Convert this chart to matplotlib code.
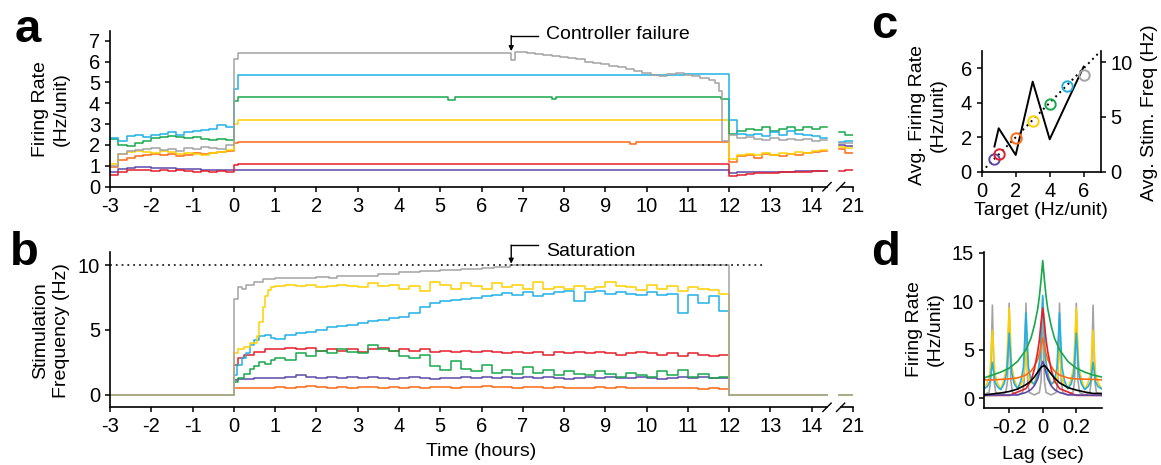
import matplotlib
matplotlib.use('Agg')
import matplotlib.pyplot as plt
import numpy as np

plt.rcParams['font.family'] = ['Liberation Sans', 'DejaVu Sans']
plt.rcParams['axes.unicode_minus'] = False
plt.rcParams['font.size'] = 14

# ---------------- colours ----------------
C_GRAY = '#A3A3A3'
C_CYAN = '#1FB1E6'
C_GREEN = '#17A84A'
C_YELLOW = '#FFD000'
C_ORANGE = '#FF6A13'
C_RED = '#E41E2B'
C_PURPLE = '#5D4AA8'

# ---------------- time axis (display hours; 21 h shown at position 15) ----------------
time_ticks = [-3, -2, -1, 0, 1, 2, 3, 4, 5, 6, 7, 8, 9, 10, 11, 12, 13, 14, 15]
time_labels = ['-3', '-2', '-1', '0', '1', '2', '3', '4', '5', '6', '7', '8', '9',
               '10', '11', '12', '13', '14', '21']
seg_end = 14.37       # data end before the axis break
brk_start = 14.65     # data start after the axis break
brk_end = 15.0

# ---------------- panel a : firing rate ----------------
a_pre_t = [-3.0, -2.8, -2.6, -2.4, -2.2, -2.0, -1.8, -1.6, -1.4, -1.2, -1.0, -0.8, -0.6, -0.4, -0.2]
a_post_t = [12.0, 12.2, 12.4, 12.6, 12.8, 13.0, 13.2, 13.4, 13.6, 13.8, 14.0, 14.2]
a_brk_t = [14.65, 14.8]

gray_a_pre = [1.0, 1.55, 1.7, 1.75, 1.8, 1.85, 1.75, 1.8, 1.7, 1.85, 1.8, 1.9, 1.85, 1.8, 2.0]
gray_a_stim_t = [0.0, 0.1, 6.72, 6.8, 7.1, 7.3, 7.5, 7.7, 7.9, 8.1, 8.3, 8.5, 8.7, 8.9, 9.1,
                 9.3, 9.5, 9.7, 9.9, 10.1, 10.3, 10.5, 10.7, 10.9, 11.1, 11.3, 11.5, 11.65,
                 11.75, 11.83]
gray_a_stim_v = [6.1, 6.42, 6.07, 6.47, 6.42, 6.35, 6.3, 6.25, 6.2, 6.15, 6.1, 6.0, 5.95, 5.9,
                 5.8, 5.75, 5.65, 5.55, 5.45, 5.35, 5.3, 5.4, 5.45, 5.35, 5.3, 5.2, 5.1, 4.95,
                 4.6, 2.2]
gray_a_post = [2.5, 2.35, 2.4, 2.3, 2.25, 2.35, 2.25, 2.3, 2.25, 2.3, 2.2, 2.25]
gray_a_brk = [2.1, 2.1]

cyan_a_pre = [2.35, 2.2, 2.45, 2.5, 2.4, 2.5, 2.55, 2.6, 2.5, 2.6, 2.65, 2.7, 2.75, 2.95, 2.85]
cyan_a_stim_t = [0.0, 0.1, 10.9, 11.6]
cyan_a_stim_v = [4.7, 5.35, 5.4, 5.38]
cyan_a_post = [3.2, 2.55, 2.5, 2.55, 2.45, 2.6, 2.5, 2.65, 2.55, 2.5, 2.45, 2.35]
cyan_a_brk = [2.15, 2.2]

green_a_pre = [2.3, 2.0, 1.95, 2.1, 2.2, 2.35, 2.4, 2.45, 2.4, 2.35, 2.4, 2.3, 2.25, 2.3, 2.25]
green_a_stim_t = [0.0, 0.1, 5.2, 5.35, 7.7, 7.8, 11.8]
green_a_stim_v = [4.1, 4.3, 4.15, 4.3, 4.2, 4.3, 4.2]
green_a_post = [2.55, 2.65, 2.75, 2.7, 2.85, 2.65, 2.75, 2.85, 2.7, 2.85, 2.75, 2.85]
green_a_brk = [2.6, 2.5]

yellow_a_pre = [1.1, 1.55, 1.65, 1.7, 1.65, 1.6, 1.7, 1.65, 1.55, 1.6, 1.55, 1.5, 1.6, 1.65, 1.75]
yellow_a_stim_t = [0.0, 0.1]
yellow_a_stim_v = [3.0, 3.22]
yellow_a_post = [1.35, 1.5, 1.55, 1.5, 1.6, 1.5, 1.6, 1.55, 1.65, 1.6, 1.7, 1.75]
yellow_a_brk = [1.9, 1.85]

orange_a_pre = [0.95, 1.3, 1.4, 1.45, 1.5, 1.55, 1.5, 1.55, 1.45, 1.5, 1.6, 1.55, 1.6, 1.65, 1.7]
orange_a_stim_t = [0.0, 0.1, 9.6, 9.75, 11.9]
orange_a_stim_v = [2.1, 2.15, 2.05, 2.15, 2.12]
orange_a_post = [1.2, 1.45, 1.5, 1.4, 1.55, 1.5, 1.45, 1.55, 1.5, 1.6, 1.65, 1.7]
orange_a_brk = [1.8, 1.6]

red_a_pre = [0.55, 0.72, 0.78, 0.8, 0.8, 0.75, 0.78, 0.75, 0.8, 0.75, 0.7, 0.75, 0.72, 0.75, 0.72]
red_a_stim_t = [0.0, 0.1]
red_a_stim_v = [1.05, 1.1]
red_a_post = [0.52, 0.58, 0.62, 0.65, 0.65, 0.68, 0.7, 0.7, 0.72, 0.72, 0.75, 0.75]
red_a_brk = [0.75, 0.8]

purple_a_pre = [0.7, 0.85, 0.92, 0.95, 0.93, 0.9, 0.88, 0.88, 0.86, 0.85, 0.83, 0.82, 0.8, 0.8, 0.8]
purple_a_stim_t = [0.0]
purple_a_stim_v = [0.82]
purple_a_post = [0.66, 0.72, 0.7, 0.72, 0.72, 0.7, 0.72, 0.72, 0.73, 0.75, 0.75, 0.75]
purple_a_brk = [2.0, 1.95]

# ---------------- panel b : stimulation frequency ----------------
b_late_t = [round(1.0 + 0.25 * i, 2) for i in range(44)]   # 1.00 ... 11.75 h bins

gray_b_t = [0.0, 0.1, 0.2, 0.3, 0.5, 0.7, 1.0, 1.5, 2.0, 2.3, 2.5, 3.0, 3.5, 4.0, 4.5, 5.0,
            5.5, 6.0, 6.3, 6.7]
gray_b_v = [7.4, 8.3, 8.2, 8.5, 8.7, 8.9, 9.0, 9.05, 9.1, 9.0, 9.15, 9.2, 9.3, 9.45, 9.55,
            9.65, 9.7, 9.8, 9.9, 10.0]

yellow_b_early_t = [0.0, 0.1, 0.25, 0.4, 0.55, 0.62, 0.7, 0.75, 0.82, 0.9]
yellow_b_early_v = [3.2, 3.5, 3.7, 4.0, 4.5, 5.6, 6.8, 7.6, 8.1, 8.3]
yellow_b_late = [8.4, 8.45, 8.4, 8.5, 8.3, 8.4, 8.5, 8.4, 8.3, 8.6,
                 8.4, 8.5, 8.2, 8.4, 8.0, 8.7, 8.5, 8.2, 8.6, 8.4,
                 8.2, 8.6, 8.3, 8.5, 8.2, 8.7, 8.2, 8.3, 8.2, 8.4,
                 8.2, 8.3, 8.7, 8.4, 8.3, 8.1, 8.5, 8.2, 8.4, 8.0,
                 8.3, 8.2, 8.1, 7.8]

cyan_b_early_t = [0.0, 0.08, 0.2, 0.3, 0.4, 0.5, 0.6, 0.75, 0.9]
cyan_b_early_v = [1.5, 2.3, 2.8, 3.2, 3.8, 4.2, 4.5, 4.6, 4.4]
cyan_b_late = [4.3, 4.6, 4.8, 4.85, 5.0, 5.2, 5.3, 5.4, 5.5, 5.7,
               5.8, 5.9, 6.0, 6.3, 6.8, 7.1, 7.2, 7.3, 7.4, 7.5,
               7.6, 7.7, 7.85, 7.7, 7.9, 7.65, 7.8, 7.9, 8.0, 7.2,
               7.9, 8.0, 7.8, 7.95, 7.8, 7.7, 7.9, 7.7, 7.8, 6.3,
               7.7, 7.1, 7.6, 6.5]

red_b_early_t = [0.0, 0.1, 0.25, 0.5, 0.75]
red_b_early_v = [2.3, 2.8, 3.1, 3.3, 3.5]
red_b_late = [3.5, 3.6, 3.5, 3.6, 3.4, 3.5, 3.4, 3.5, 3.3, 3.5,
              3.6, 3.4, 3.5, 3.4, 3.5, 3.3, 3.4, 3.3, 3.4, 3.3,
              3.4, 3.3, 3.2, 3.3, 3.2, 3.3, 3.1, 3.3, 3.2, 3.3,
              3.2, 3.3, 3.2, 3.1, 3.2, 3.3, 3.2, 3.1, 3.2, 3.0,
              3.2, 3.1, 3.0, 3.1]

green_b_early_t = [0.0, 0.1, 0.25, 0.4, 0.5, 0.6, 0.75, 0.9]
green_b_early_v = [1.0, 1.3, 1.6, 2.0, 2.2, 2.5, 2.4, 2.7]
green_b_late = [2.8, 2.7, 3.2, 3.0, 3.4, 3.2, 3.5, 3.3, 3.2, 3.8,
                3.5, 3.4, 3.0, 2.8, 3.1, 2.2, 1.9, 2.6, 2.0, 1.8,
                2.3, 1.7, 1.9, 1.6, 2.1, 1.7, 1.9, 1.5, 1.8, 1.6,
                1.5, 1.8, 1.6, 1.4, 1.7, 1.5, 1.4, 1.8, 1.5, 1.9,
                1.4, 1.6, 1.3, 1.4]

purple_b_early_t = [0.0, 0.1, 0.5]
purple_b_early_v = [1.1, 1.2, 1.3]
purple_b_late = [1.3, 1.4, 1.5, 1.4, 1.3, 1.4, 1.3, 1.4, 1.3, 1.4,
                 1.3, 1.2, 1.3, 1.4, 1.3, 1.2, 1.3, 1.3, 1.4, 1.3,
                 1.4, 1.3, 1.4, 1.3, 1.4, 1.3, 1.4, 1.3, 1.2, 1.3,
                 1.4, 1.3, 1.4, 1.3, 1.3, 1.4, 1.3, 1.2, 1.3, 1.4,
                 1.3, 1.4, 1.3, 1.3]

orange_b_early_t = [0.0, 0.1]
orange_b_early_v = [0.5, 0.55]
orange_b_late = [0.6, 0.55, 0.6, 0.65, 0.6, 0.55, 0.6, 0.55, 0.6, 0.6,
                 0.55, 0.6, 0.5, 0.6, 0.55, 0.6, 0.6, 0.55, 0.6, 0.6,
                 0.65, 0.6, 0.6, 0.55, 0.6, 0.6, 0.55, 0.6, 0.55, 0.5,
                 0.55, 0.6, 0.55, 0.6, 0.5, 0.55, 0.5, 0.55, 0.5, 0.55,
                 0.5, 0.45, 0.5, 0.45]

saturation_level = 10
saturation_end = 12.9
event_t = 6.72

# ---------------- panel c ----------------
targets = [0.75, 1, 2, 3, 4, 5, 6]
avg_rate = [0.75, 1.0, 1.98, 2.93, 3.9, 4.98, 5.6]
avg_stim = [2.3, 3.97, 1.53, 8.23, 2.96, 6.3, 9.6]
c_colors = [C_PURPLE, C_RED, C_ORANGE, C_YELLOW, C_GREEN, C_CYAN, C_GRAY]
identity = [0, 7]

# ---------------- panel d : cross-correlograms ----------------
lag_gray = [-0.35, -0.32, -0.31, -0.3, -0.29, -0.28, -0.25, -0.22, -0.21, -0.2, -0.19, -0.18,
            -0.15, -0.12, -0.11, -0.1, -0.09, -0.08, -0.05, -0.02, -0.01, 0.0, 0.01, 0.02,
            0.05, 0.08, 0.09, 0.1, 0.11, 0.12, 0.15, 0.18, 0.19, 0.2, 0.21, 0.22, 0.25,
            0.28, 0.29, 0.3, 0.31, 0.32, 0.35]
rate_gray = [0.4, 0.6, 1.8, 9.6, 1.8, 0.6, 0.35, 0.6, 1.8, 9.8, 1.8, 0.6,
             0.35, 0.6, 1.8, 9.8, 1.8, 0.6, 0.35, 0.6, 1.8, 9.8, 1.8, 0.6,
             0.35, 0.6, 1.8, 9.8, 1.8, 0.6, 0.35, 0.6, 1.8, 9.8, 1.8, 0.6, 0.35,
             0.6, 1.8, 9.6, 1.8, 0.6, 0.4]
lag_spk = [-0.35, -0.33, -0.315, -0.3, -0.285, -0.27, -0.25, -0.23, -0.215, -0.2, -0.185,
           -0.17, -0.15, -0.13, -0.115, -0.1, -0.085, -0.07, -0.05, -0.03, -0.015, 0.0,
           0.015, 0.03, 0.05, 0.07, 0.085, 0.1, 0.115, 0.13, 0.15, 0.17, 0.185, 0.2, 0.215,
           0.23, 0.25, 0.27, 0.285, 0.3, 0.315, 0.33, 0.35]
rate_yellow = [1.0, 1.6, 2.5, 7.0, 2.5, 1.6, 0.9, 2.0, 3.3, 9.3, 3.3, 2.0, 1.0, 1.4, 2.0, 5.0,
               2.0, 1.6, 1.6, 2.6, 4.2, 10.3, 4.2, 2.6, 1.6, 1.6, 2.0, 5.0, 2.0, 1.4, 1.0,
               2.0, 3.3, 9.3, 3.3, 2.0, 0.9, 1.6, 2.5, 7.0, 2.5, 1.6, 1.0]
rate_cyan = [1.0, 1.2, 1.7, 3.7, 1.7, 1.2, 0.9, 1.5, 2.6, 6.7, 2.6, 1.5, 1.0, 1.8, 3.2, 8.8,
             3.2, 1.8, 1.4, 2.4, 4.3, 10.6, 4.3, 2.4, 1.4, 1.8, 3.2, 8.8, 3.2, 1.8, 1.0,
             1.5, 2.6, 6.7, 2.6, 1.5, 0.9, 1.2, 1.7, 3.7, 1.7, 1.2, 1.0]
lag_green = [-0.35, -0.3, -0.25, -0.2, -0.15, -0.1, -0.07, -0.05, -0.03, -0.02, -0.01, 0.0,
             0.01, 0.02, 0.03, 0.05, 0.07, 0.1, 0.15, 0.2, 0.25, 0.3, 0.35]
rate_green = [2.1, 2.4, 2.7, 3.1, 3.8, 5.0, 6.2, 7.5, 9.2, 10.5, 12.2, 14.2,
              12.2, 10.5, 9.2, 7.5, 6.2, 5.0, 3.8, 3.1, 2.7, 2.4, 2.2]
lag_orange = [-0.35, -0.3, -0.2, -0.15, -0.1, -0.07, -0.05, -0.03, -0.02, -0.01, 0.0,
              0.01, 0.02, 0.03, 0.05, 0.07, 0.1, 0.15, 0.2, 0.3, 0.35]
rate_orange = [1.9, 1.9, 2.0, 2.1, 2.4, 2.8, 3.3, 4.0, 4.6, 5.4, 6.2,
               5.4, 4.6, 4.0, 3.3, 2.8, 2.4, 2.1, 2.0, 1.95, 1.9]
lag_red = [-0.35, -0.2, -0.1, -0.07, -0.05, -0.03, -0.02, -0.01, 0.0, 0.01, 0.02, 0.03,
           0.05, 0.07, 0.1, 0.2, 0.35]
rate_red = [0.3, 0.3, 1.0, 1.8, 3.0, 4.8, 6.0, 7.8, 9.3, 7.8, 6.0, 4.8, 3.0, 1.8, 1.0, 0.3, 0.3]
lag_purple = [-0.35, -0.15, -0.1, -0.07, -0.05, -0.03, -0.02, -0.01, 0.0, 0.01, 0.02, 0.03,
              0.05, 0.07, 0.1, 0.15, 0.35]
rate_purple = [0.3, 0.35, 0.6, 0.9, 1.3, 2.0, 2.6, 3.3, 3.8, 3.3, 2.6, 2.0, 1.3, 0.9, 0.6, 0.35, 0.3]
lag_black = [-0.35, -0.3, -0.25, -0.2, -0.15, -0.1, -0.07, -0.05, -0.03, -0.01, 0.0, 0.01,
             0.03, 0.05, 0.07, 0.1, 0.15, 0.2, 0.25, 0.3, 0.35]
rate_black = [0.35, 0.45, 0.55, 0.7, 0.95, 1.4, 1.8, 2.2, 2.7, 3.2, 3.3, 3.4, 3.0, 2.5, 2.1,
              1.6, 1.1, 0.85, 0.65, 0.5, 0.5]

# ======================================================================
W, H = 1161, 465
fig = plt.figure(figsize=(W / 100, H / 100), dpi=100)


def fx(px):
    return px / W


def fy(py):
    return 1 - py / H


LW = 1.1
TICK = dict(direction='out', length=3.6, width=1.1, labelsize=14.5)


def style(ax, sides=('left', 'bottom')):
    for s in ['left', 'right', 'top', 'bottom']:
        ax.spines[s].set_visible(s in sides)
        ax.spines[s].set_linewidth(1.2)
    ax.tick_params(**TICK)


def step_line(ax, t, v, end, color, zorder=2):
    x = list(t) + [end]
    y = list(v) + [v[-1]]
    ax.step(x, y, where='post', color=color, lw=LW, zorder=zorder)


def broken_xaxis(ax):
    ax.spines['bottom'].set_visible(False)
    tr = ax.get_xaxis_transform()
    ax.plot([-3, seg_end], [0, 0], color='k', lw=1.2, transform=tr, clip_on=False)
    ax.plot([seg_end + 0.33, 15], [0, 0], color='k', lw=1.2, transform=tr, clip_on=False)
    for xc in (seg_end, seg_end + 0.33):
        ax.plot([xc - 0.1, xc + 0.1], [-0.027, 0.027], color='k', lw=1.0,
                transform=tr, clip_on=False)
    ax.set_xticks(time_ticks)
    ax.set_xticklabels(time_labels)
    ax.set_xlim(-3, 15)


# ---------------- panel a ----------------
ax_a = fig.add_axes([fx(110), fy(186.7), fx(853 - 110), (186.7 - 30.7) / H])
style(ax_a)
a_series = [
    (purple_a_pre, purple_a_stim_t, purple_a_stim_v, purple_a_post, purple_a_brk, C_PURPLE),
    (red_a_pre, red_a_stim_t, red_a_stim_v, red_a_post, red_a_brk, C_RED),
    (orange_a_pre, orange_a_stim_t, orange_a_stim_v, orange_a_post, orange_a_brk, C_ORANGE),
    (yellow_a_pre, yellow_a_stim_t, yellow_a_stim_v, yellow_a_post, yellow_a_brk, C_YELLOW),
    (green_a_pre, green_a_stim_t, green_a_stim_v, green_a_post, green_a_brk, C_GREEN),
    (cyan_a_pre, cyan_a_stim_t, cyan_a_stim_v, cyan_a_post, cyan_a_brk, C_CYAN),
    (gray_a_pre, gray_a_stim_t, gray_a_stim_v, gray_a_post, gray_a_brk, C_GRAY),
]
for pre, st, sv, post, brk, col in a_series:
    step_line(ax_a, a_pre_t + st + a_post_t, pre + sv + post, seg_end, col)
    step_line(ax_a, a_brk_t, brk, brk_end, col)
ax_a.set_ylim(0, 7.48)
ax_a.set_yticks(range(0, 8))
broken_xaxis(ax_a)
# controller failure annotation
ax_a.plot([event_t, event_t + 0.66], [7.22, 7.22], color='k', lw=1.0, clip_on=False)
ax_a.annotate('', xy=(event_t, 6.5), xytext=(event_t, 7.24),
              arrowprops=dict(arrowstyle='-|>', color='k', lw=1.0, mutation_scale=7,
                              shrinkA=0, shrinkB=0), annotation_clip=False)
ax_a.text(event_t + 0.85, 7.3, 'Controller failure', fontsize=14, va='center', ha='left')

# ---------------- panel b ----------------
ax_b = fig.add_axes([fx(110), fy(407.3), fx(853 - 110), (407.3 - 252.3) / H])
style(ax_b)
b_series = [
    (purple_b_early_t + b_late_t, purple_b_early_v + purple_b_late, C_PURPLE),
    (orange_b_early_t + b_late_t, orange_b_early_v + orange_b_late, C_ORANGE),
    (red_b_early_t + b_late_t, red_b_early_v + red_b_late, C_RED),
    (green_b_early_t + b_late_t, green_b_early_v + green_b_late, C_GREEN),
    (cyan_b_early_t + b_late_t, cyan_b_early_v + cyan_b_late, C_CYAN),
    (yellow_b_early_t + b_late_t, yellow_b_early_v + yellow_b_late, C_YELLOW),
    (gray_b_t, gray_b_v, C_GRAY),
]
for t, v, col in b_series:
    step_line(ax_b, [-3.0] + t + [12.0], [0.0] + v + [0.0], seg_end, col)
    step_line(ax_b, [brk_start], [0.0], brk_end, col)
ax_b.plot([-3, saturation_end], [saturation_level, saturation_level], color='k',
          lw=1.1, ls=(0, (1.2, 2.6)), zorder=3)
ax_b.set_ylim(-0.98, 11.0)
ax_b.set_yticks([0, 5, 10])
broken_xaxis(ax_b)
ax_b.plot([event_t, event_t + 0.66], [11.53, 11.53], color='k', lw=1.0, clip_on=False)
ax_b.annotate('', xy=(event_t, 10.12), xytext=(event_t, 11.55),
              arrowprops=dict(arrowstyle='-|>', color='k', lw=1.0, mutation_scale=7,
                              shrinkA=0, shrinkB=0), annotation_clip=False)
ax_b.text(event_t + 0.85, 11.05, 'Saturation', fontsize=14, va='center', ha='left')

# ---------------- panel c ----------------
ax_c = fig.add_axes([fx(981.7), fy(171.7), fx(1100.7 - 981.7), (171.7 - 51) / H])
style(ax_c)
ax_c.set_xlim(0, 7)
ax_c.set_ylim(0, 7)
ax_c.set_xticks([0, 2, 4, 6])
ax_c.set_yticks([0, 2, 4, 6])
ax_c2 = ax_c.twinx()
style(ax_c2, sides=('right',))
ax_c2.plot(targets, avg_stim, color='k', lw=1.4, zorder=2)
ax_c2.set_ylim(0, 11.03)
ax_c2.set_yticks([0, 5, 10])
ax_c2.set_xlim(0, 7)
# identity line and circles drawn on the top axes (in left-axis units) so they stay visible
to_right = ax_c2.get_ylim()[1] / ax_c.get_ylim()[1]
ax_c2.plot(identity, [v * to_right for v in identity], color='k', lw=1.4,
           ls=(0, (1.0, 2.0)), zorder=1)
for tx, rv, col in zip(targets, avg_rate, c_colors):
    ax_c2.plot([tx], [rv * to_right], 'o', ms=7.5, mfc='none', mec=col, mew=1.4, zorder=3)

# ---------------- panel d ----------------
ax_d = fig.add_axes([fx(984), fy(408.3), fx(1102.3 - 984), (408.3 - 252.3) / H])
style(ax_d)
d_curves = [
    (lag_gray, rate_gray, C_GRAY),
    (lag_spk, rate_yellow, C_YELLOW),
    (lag_spk, rate_cyan, C_CYAN),
    (lag_orange, rate_orange, C_ORANGE),
    (lag_green, rate_green, C_GREEN),
    (lag_red, rate_red, C_RED),
    (lag_purple, rate_purple, C_PURPLE),
    (lag_black, rate_black, 'k'),
]
for lx, ly, col in d_curves:
    ax_d.plot(lx, ly, color=col, lw=1.2)
ax_d.set_xlim(-0.35, 0.355)
ax_d.set_ylim(-1.03, 15.05)
ax_d.set_yticks([0, 5, 10, 15])
ax_d.set_xticks([-0.2, 0, 0.2])
ax_d.set_xticklabels(['-0.2', '0', '0.2'])

# ---------------- labels ----------------
lab = dict(fontsize=14, ha='center', va='center', rotation=90, linespacing=1.25)
fig.text(fx(51), fy(108.7), 'Firing Rate\n(Hz/unit)', **lab)
fig.text(fx(51), fy(331), 'Stimulation\nFrequency (Hz)', **lab)
fig.text(fx(928), fy(115), 'Avg. Firing Rate\n(Hz/unit)', **lab)
fig.text(fx(1149), fy(113), 'Avg. Stim. Freq (Hz)', **lab)
fig.text(fx(925), fy(329), 'Firing Rate\n(Hz/unit)', **lab)
fig.text(fx(481), fy(451), 'Time (hours)', fontsize=14, ha='center', va='center')
fig.text(fx(1041), fy(210), 'Target (Hz/unit)', fontsize=14, ha='center', va='center')
fig.text(fx(1043), fy(454), 'Lag (sec)', fontsize=14, ha='center', va='center')

pl = dict(fontsize=34, fontweight='bold', ha='left', va='baseline')
fig.text(fx(15), fy(41.5), 'a', **pl)
fig.text(fx(10), fy(265), 'b', **pl)
fig.text(fx(871), fy(38.5), 'c', **pl)
fig.text(fx(871), fy(265), 'd', **pl)

fig.savefig('out.png', dpi=100)
